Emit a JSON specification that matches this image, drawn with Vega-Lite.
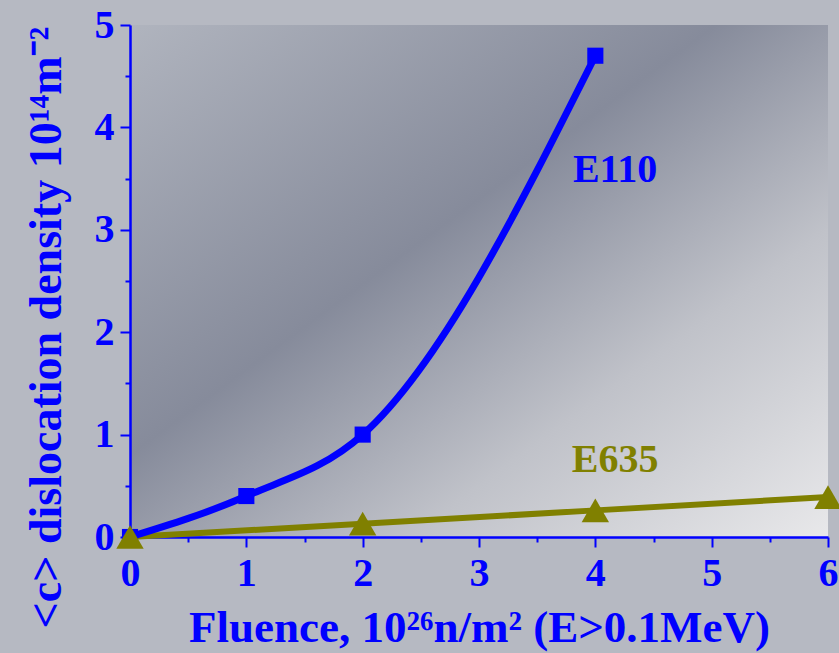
{
  "$schema": "https://vega.github.io/schema/vega-lite/v6.json",
  "autosize": "none",
  "width": 698,
  "height": 512,
  "padding": {"left": 130, "top": 25, "right": 11, "bottom": 116},
  "background": "#b6b9c2",
  "config": {
    "view": {
      "stroke": null,
      "fill": {
        "gradient": "linear",
        "x1": 0, "y1": 0, "x2": 1, "y2": 1,
        "stops": [
          {"offset": 0, "color": "#b0b4be"},
          {"offset": 0.42, "color": "#868b9b"},
          {"offset": 0.7, "color": "#c0c2c9"},
          {"offset": 1, "color": "#e8e8ea"}
        ]
      }
    },
    "axis": {
      "domainColor": "#0000ff",
      "domainWidth": 2.5,
      "tickColor": "#0000ff",
      "tickWidth": 2,
      "labelColor": "#0000ff",
      "labelFont": "Liberation Serif",
      "labelFontWeight": "bold",
      "labelFontSize": 40,
      "titleColor": "#0000ff",
      "titleFont": "Liberation Serif",
      "titleFontWeight": "bold",
      "grid": false,
      "labelOverlap": false,
      "labelFlush": false
    }
  },
  "datasets": {
    "pts": [
      {"series": "E110", "x": 0, "y": 0},
      {"series": "E110", "x": 1, "y": 0.4},
      {"series": "E110", "x": 2, "y": 1.0},
      {"series": "E110", "x": 4, "y": 4.7},
      {"series": "E635", "x": 0, "y": 0},
      {"series": "E635", "x": 2, "y": 0.13},
      {"series": "E635", "x": 4, "y": 0.26},
      {"series": "E635", "x": 6, "y": 0.39}
    ],
    "labels": [
      {"series": "E110", "label": "E110", "x": 4.17, "y": 3.58},
      {"series": "E635", "label": "E635", "x": 4.17, "y": 0.75}
    ]
  },
  "encoding": {
    "x": {
      "field": "x", "type": "quantitative",
      "scale": {"domain": [0, 6], "nice": false, "zero": false},
      "axis": {
        "title": "Fluence, 10²⁶n/m² (E>0.1MeV)",
        "titleFontSize": 45,
        "values": [0, 0.5, 1, 1.5, 2, 2.5, 3, 3.5, 4, 4.5, 5, 5.5, 6],
        "labelExpr": "datum.value % 1 === 0 ? format(datum.value, 'd') : ''",
        "tickSize": {"condition": {"test": "datum.value % 1 === 0", "value": 10}, "value": 5},
        "labelPadding": 6,
        "titleY": 104,
        "titleBaseline": "alphabetic"
      }
    },
    "y": {
      "field": "y", "type": "quantitative",
      "scale": {"domain": [0, 5], "nice": false},
      "axis": {
        "title": "<c> dislocation density 10¹⁴m⁻²",
        "titleFontSize": 46,
        "values": [0, 0.5, 1, 1.5, 2, 2.5, 3, 3.5, 4, 4.5, 5],
        "labelExpr": "datum.value % 1 === 0 ? format(datum.value, 'd') : ''",
        "tickSize": {"condition": {"test": "datum.value % 1 === 0", "value": 10}, "value": 5},
        "labelPadding": 6,
        "titleX": -70,
        "titleY": 302,
        "titleBaseline": "alphabetic"
      }
    },
    "color": {
      "field": "series", "type": "nominal",
      "scale": {"domain": ["E110", "E635"], "range": ["#0000ff", "#808000"]},
      "legend": null
    }
  },
  "layer": [
    {
      "data": {"name": "pts"},
      "transform": [{"filter": "datum.series === 'E635'"}],
      "mark": {"type": "line", "strokeWidth": 6, "strokeCap": "round", "clip": false}
    },
    {
      "data": {"name": "pts"},
      "transform": [{"filter": "datum.series === 'E110'"}],
      "mark": {"type": "line", "strokeWidth": 7, "strokeCap": "round", "interpolate": "monotone", "clip": false}
    },
    {
      "data": {"name": "pts"},
      "mark": {"type": "point", "filled": true, "opacity": 1, "clip": false},
      "encoding": {
        "shape": {
          "field": "series", "type": "nominal",
          "scale": {"domain": ["E110", "E635"], "range": ["square", "triangle-up"]},
          "legend": null
        },
        "size": {
          "field": "series", "type": "nominal",
          "scale": {"domain": ["E110", "E635"], "range": [260, 750]},
          "legend": null
        }
      }
    },
    {
      "data": {"name": "labels"},
      "mark": {"type": "text", "font": "Liberation Serif", "fontWeight": "bold", "fontSize": 40, "align": "center", "baseline": "middle"},
      "encoding": {"text": {"field": "label"}}
    }
  ]
}
